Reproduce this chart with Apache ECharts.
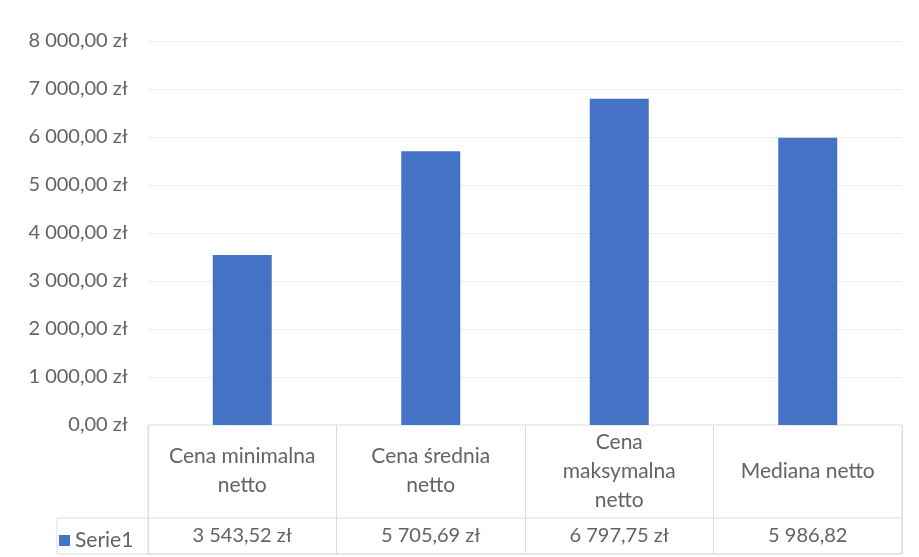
<!DOCTYPE html>
<html>
<head>
<meta charset="utf-8">
<script src="https://cdn.jsdelivr.net/npm/echarts@6/dist/echarts.min.js"></script>
<style>
html,body{margin:0;padding:0;background:#fff;}
#chart{width:919px;height:557px;}
</style>
</head>
<body>
<div id="chart"></div>
<script>
const categories = ['Cena minimalna\nnetto', 'Cena średnia\nnetto', 'Cena\nmaksymalna\nnetto', 'Mediana netto'];
const values = [3543.52, 5705.69, 6797.75, 5986.82];
const tableLabels = ['3 543,52 zł', '5 705,69 zł', '6 797,75 zł', '5 986,82'];
const seriesName = 'Serie1';

const FONT = 'Lato';
const TXT = '#636363';
const BORDER = '#dcdcdc';

function fmtZl(v) {
  const fixed = v.toFixed(2);
  let [i, d] = fixed.split('.');
  i = i.replace(/\B(?=(\d{3})+(?!\d))/g, ' ');
  return i + ',' + d + ' zł';
}

const chart = echarts.init(document.getElementById('chart'));
chart.setOption({
  animation: false,
  textStyle: { fontFamily: FONT },
  legend: {
    data: [seriesName],
    left: 54, top: 525,
    icon: 'rect', itemWidth: 11, itemHeight: 11, itemGap: 4,
    textStyle: { color: TXT, fontSize: 21, fontFamily: FONT }
  },
  grid: [
    { left: 148, right: 17, top: 41, height: 384 },
    { left: 148, right: 17, top: 425, height: 129, show: true, borderColor: BORDER, borderWidth: 1, backgroundColor: 'transparent' },
    { left: 57, right: 17, top: 518, height: 36, show: true, borderColor: BORDER, borderWidth: 1, backgroundColor: 'transparent' }
  ],
  xAxis: [
    {
      gridIndex: 0, type: 'category', data: categories,
      axisLine: { show: false }, axisTick: { show: false },
      axisLabel: { interval: 0, margin: 46, verticalAlign: 'middle', lineHeight: 29, color: TXT, fontSize: 21, fontFamily: FONT }
    },
    {
      gridIndex: 1, type: 'category', data: tableLabels,
      axisLine: { show: false }, axisTick: { show: false },
      splitLine: { show: true, interval: 0, lineStyle: { color: BORDER, width: 1 } },
      axisLabel: { inside: true, interval: 0, margin: 18, verticalAlign: 'middle', color: TXT, fontSize: 20, fontFamily: FONT }
    },
    { gridIndex: 2, type: 'category', data: [''], show: false }
  ],
  yAxis: [
    {
      gridIndex: 0, type: 'value', min: 0, max: 8000, interval: 1000,
      axisLine: { show: false }, axisTick: { show: false },
      splitLine: { lineStyle: { color: '#ededed', width: 1 } },
      axisLabel: { margin: 20, color: TXT, fontSize: 20, fontFamily: FONT, formatter: fmtZl }
    },
    { gridIndex: 1, type: 'value', show: false, splitLine: { show: false } },
    { gridIndex: 2, type: 'value', show: false, splitLine: { show: false } }
  ],
  series: [
    {
      name: seriesName, type: 'bar', xAxisIndex: 0, yAxisIndex: 0,
      data: values, barWidth: 59,
      itemStyle: { color: '#4472C4' }
    }
  ]
});
</script>
</body>
</html>
